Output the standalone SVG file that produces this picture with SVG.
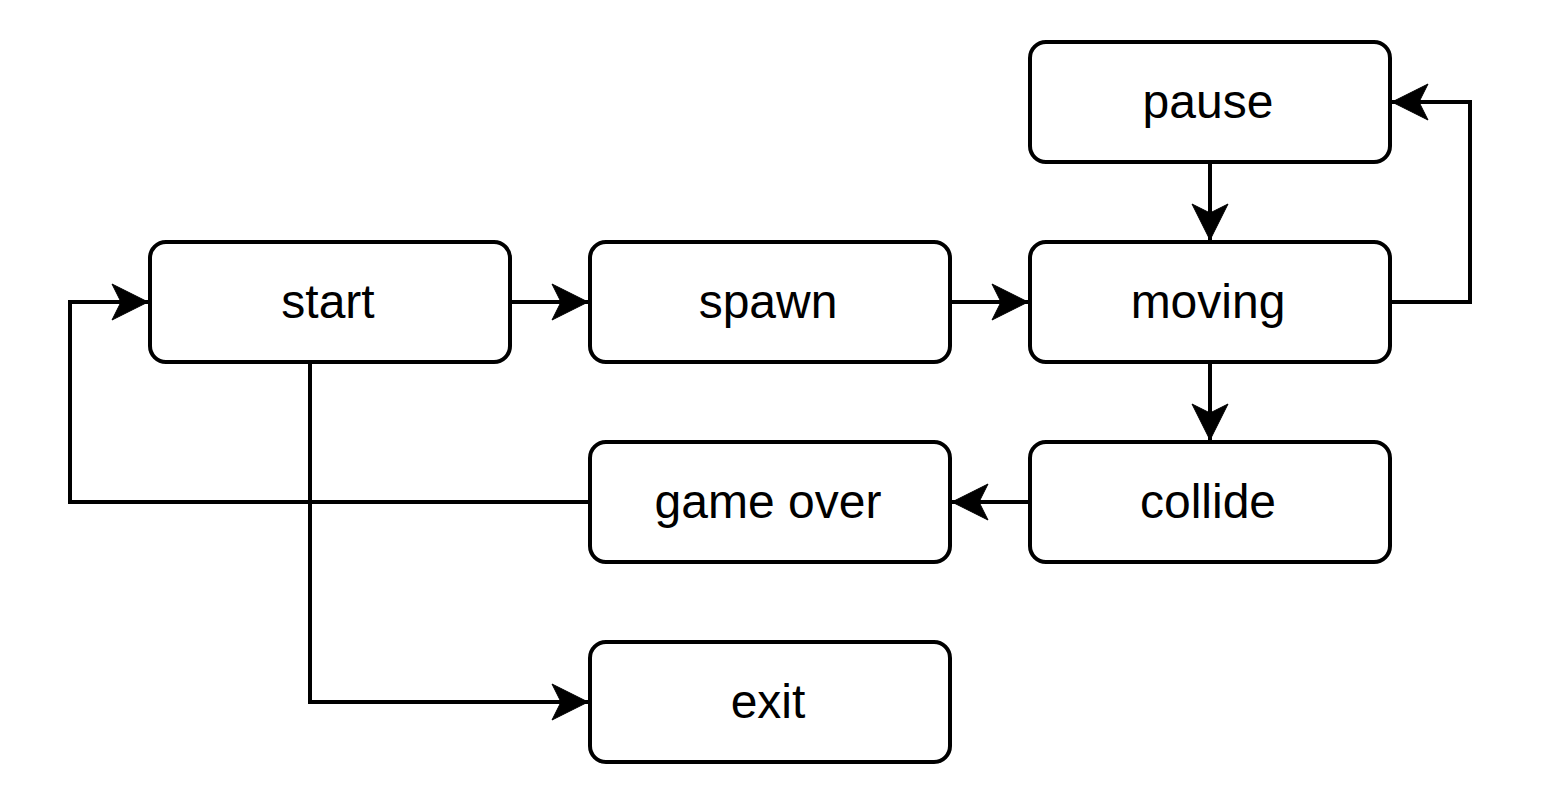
<svg xmlns="http://www.w3.org/2000/svg" width="1548" height="804" viewBox="0 0 1548 804">
<style>
.n rect{fill:#fff;stroke:#000;stroke-width:4}
.n text{font-family:"Liberation Sans",Arial,sans-serif;font-size:48px;text-anchor:middle;fill:#000}
.e{fill:none;stroke:#000;stroke-width:4;marker-end:url(#ah)}
</style>
<defs>
<marker id="ah" markerUnits="userSpaceOnUse" markerWidth="42" markerHeight="42" viewBox="-40 -21 42 42" refX="0" refY="0" orient="auto">
<path d="M0,0 L-36,-18 L-27,0 L-36,18 Z" fill="#000" stroke="#000" stroke-width="1"/>
</marker>
</defs>
<rect width="1548" height="804" fill="#fff"/>
<g id="connectors">
<path class="e" d="M510,302 L588,302"/>
<path class="e" d="M950,302 L1028,302"/>
<path class="e" d="M1210,162 L1210,240"/>
<path class="e" d="M1210,362 L1210,440"/>
<path class="e" d="M1030,502 L952,502"/>
<path class="e" d="M1390,302 L1470,302 L1470,102 L1392,102"/>
<path class="e" d="M590,502 L70,502 L70,302 L148,302"/>
<path class="e" d="M310,362 L310,702 L588,702"/>
</g>
<g id="start" class="n"><rect x="150" y="242" width="360" height="120" rx="16"/><text x="328" y="318">start</text></g>
<g id="spawn" class="n"><rect x="590" y="242" width="360" height="120" rx="16"/><text x="768" y="318">spawn</text></g>
<g id="moving" class="n"><rect x="1030" y="242" width="360" height="120" rx="16"/><text x="1208" y="318">moving</text></g>
<g id="pause" class="n"><rect x="1030" y="42" width="360" height="120" rx="16"/><text x="1208" y="118">pause</text></g>
<g id="collide" class="n"><rect x="1030" y="442" width="360" height="120" rx="16"/><text x="1208" y="518">collide</text></g>
<g id="gameover" class="n"><rect x="590" y="442" width="360" height="120" rx="16"/><text x="768" y="518">game over</text></g>
<g id="exit" class="n"><rect x="590" y="642" width="360" height="120" rx="16"/><text x="768" y="718">exit</text></g>
</svg>
